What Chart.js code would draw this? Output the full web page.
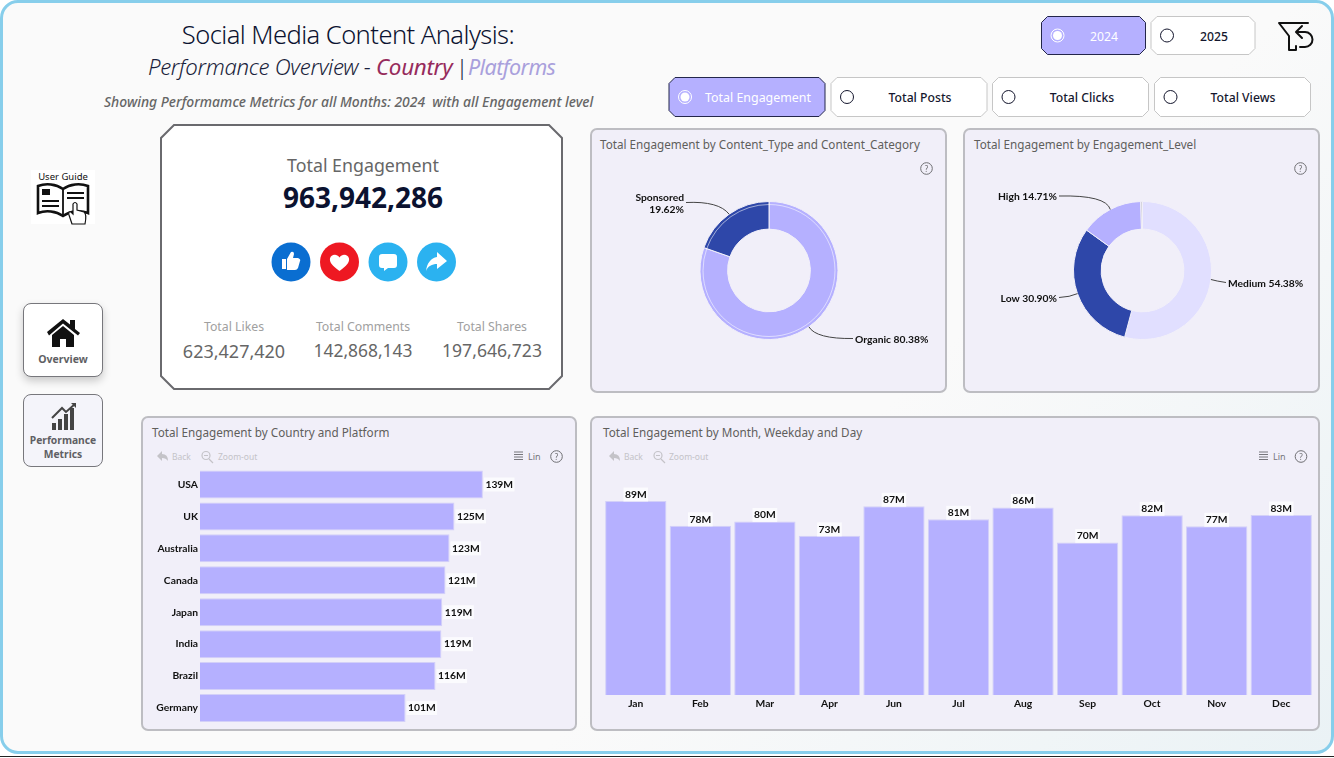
<!DOCTYPE html>
<html>
<head>
<meta charset="utf-8">
<title>Social Media Content Analysis</title>
<script src="https://cdn.jsdelivr.net/npm/chart.js@4"></script>
<style>
  html, body { margin: 0; padding: 0; width: 1334px; height: 758px; overflow: hidden; background: #fff; }
  body { font-family: "Noto Sans", sans-serif; position: relative; }
  #frame { position: absolute; left: 0; top: 0; width: 1328px; height: 748px; border: 3px solid #87CEEB; border-radius: 18px;
    background: linear-gradient(135deg, #fafafa 0%, #fafafa 62%, #eaf2f5 100%); }
  #baseline { position: absolute; left: 0; top: 756px; width: 1334px; height: 1px; background: #222; }
  #shapes { position: absolute; left: 0; top: 0; }
  .t { position: absolute; white-space: nowrap; line-height: 1; }
  .c { transform: translateX(-50%); }
  .panel { position: absolute; background: #F1EFF9; border: 2px solid #bdbdc2; border-radius: 7px; box-sizing: border-box; }
  canvas { position: absolute; }
  .nav { position: absolute; box-sizing: border-box; border: 1px solid #77777c; border-radius: 8px; }
  .ptitle { color: #605E5C; font-size: 11.7px; }
  .tool { color: #c4c3c8; font-size: 8.5px; }
  .tool2 { color: #77767c; font-size: 9px; }
  .sub { top: 56px; font-size: 22.2px; font-style: italic; font-weight: 300; color: #1a1f3c; letter-spacing: -.3px; }
</style>
</head>
<body>
<div id="frame"></div>
<div id="baseline"></div>
<svg id="shapes" width="1334" height="758"></svg>

<div class="t c" style="left:348px;top:22px;font-size:25.5px;color:#0b1230;font-weight:300;letter-spacing:-.55px">Social Media Content Analysis:</div>
<div class="t sub" style="left:148px">Performance Overview -</div>
<div class="t sub" style="left:376px;color:#962B5C;font-weight:400;font-size:22.4px">Country</div>
<div class="t sub" style="left:456px;font-style:normal">|</div>
<div class="t sub" style="left:468px;color:#A9A0DC;font-weight:400;font-size:21.5px;letter-spacing:-.6px">Platforms</div>
<div class="t" style="left:104px;top:95px;font-size:13.9px;font-style:italic;font-weight:500;color:#666;letter-spacing:0">Showing Performamce Metrics for all Months: 2024&nbsp; with all Engagement level</div>

<div class="t c" style="left:1104px;top:31px;font-size:12.2px;color:#fff">2024</div>
<div class="t c" style="left:1214px;top:31px;font-size:12.2px;color:#15172e;font-weight:500">2025</div>
<div class="t c" style="left:758px;top:92px;font-size:12.4px;color:#fff">Total Engagement</div>
<div class="t c" style="left:920px;top:92px;font-size:12.2px;color:#15172e;font-weight:500">Total Posts</div>
<div class="t c" style="left:1082px;top:92px;font-size:12.2px;color:#15172e;font-weight:500">Total Clicks</div>
<div class="t c" style="left:1243px;top:92px;font-size:12.2px;color:#15172e;font-weight:500">Total Views</div>

<div style="position:absolute;left:31px;top:170px;width:64px;height:54px;background:#fff"></div>
<div class="t c" style="left:63px;top:172px;font-size:9.5px;color:#111">User Guide</div>
<div class="nav" style="left:23px;top:303px;width:80px;height:74px;background:#fff;box-shadow:0 4px 8px rgba(0,0,0,.2)"></div>
<div class="t c" style="left:63px;top:354px;font-size:10.5px;font-weight:700;color:#5f5f64">Overview</div>
<div class="nav" style="left:23px;top:394px;width:80px;height:73px;background:#F4F4FA"></div>
<div class="t c" style="left:63px;top:435px;font-size:10.3px;font-weight:700;color:#5f5f64">Performance</div>
<div class="t c" style="left:63px;top:449px;font-size:10.3px;font-weight:700;color:#5f5f64">Metrics</div>

<div class="t c" style="left:363px;top:157px;font-size:17.8px;color:#666">Total Engagement</div>
<div class="t c" style="left:363px;top:183px;font-size:28px;font-weight:700;color:#0b1230">963,942,286</div>
<div class="t c" style="left:234px;top:321px;font-size:12.3px;color:#a0a0a0">Total Likes</div>
<div class="t c" style="left:363px;top:321px;font-size:12.3px;color:#a0a0a0">Total Comments</div>
<div class="t c" style="left:492px;top:321px;font-size:12.3px;color:#a0a0a0">Total Shares</div>
<div class="t c" style="left:234px;top:342px;font-size:18px;color:#666">623,427,420</div>
<div class="t c" style="left:363px;top:342px;font-size:17.4px;color:#666">142,868,143</div>
<div class="t c" style="left:492px;top:342px;font-size:17.6px;color:#666">197,646,723</div>

<div class="panel" style="left:590px;top:128px;width:357px;height:265px"></div>
<div class="panel" style="left:963px;top:128px;width:357px;height:265px"></div>
<div class="panel" style="left:141px;top:416px;width:436px;height:315px"></div>
<div class="panel" style="left:590px;top:416px;width:730px;height:315px"></div>
<div class="t ptitle" style="left:600px;top:139px">Total Engagement by Content_Type and Content_Category</div>
<div class="t ptitle" style="left:974px;top:139px">Total Engagement by Engagement_Level</div>
<div class="t ptitle" style="left:152px;top:427px">Total Engagement by Country and Platform</div>
<div class="t ptitle" style="left:603px;top:427px">Total Engagement by Month, Weekday and Day</div>

<div class="t tool" style="left:172px;top:453px">Back</div>
<div class="t tool" style="left:218px;top:453px">Zoom-out</div>
<div class="t tool2" style="left:528px;top:452px">Lin</div>
<div class="t tool" style="left:624px;top:453px">Back</div>
<div class="t tool" style="left:669px;top:453px">Zoom-out</div>
<div class="t tool2" style="left:1273px;top:452px">Lin</div>

<canvas id="typeChart" style="left:591px;top:129px"></canvas>
<canvas id="levelChart" style="left:964px;top:129px"></canvas>
<canvas id="countryChart" style="left:142px;top:417px"></canvas>
<canvas id="monthChart" style="left:591px;top:417px"></canvas>
<svg id="icons" width="1334" height="758" style="position:absolute;left:0;top:0;pointer-events:none"></svg>

<script>
const contentTypes = ["Organic", "Sponsored"];
const contentTypeShare = [80.38, 19.62];
const levels = ["Medium", "Low", "High", ""];
const levelShare = [54.38, 30.90, 14.71, 0.4];
const countries = ["USA", "UK", "Australia", "Canada", "Japan", "India", "Brazil", "Germany"];
const countryEngagement = [139, 125, 122.6, 120.6, 119, 118.6, 115.7, 101];
const months = ["Jan", "Feb", "Mar", "Apr", "Jun", "Jul", "Aug", "Sep", "Oct", "Nov", "Dec"];
const monthEngagement = [89, 77.6, 79.6, 73, 86.6, 80.6, 86, 70, 82.4, 77.4, 82.6];

const LILAC = "#B5B0FF";
const NAVY = "#2E47A9";
const PALE = "#E1DFFF";
const labelFont = '700 10.3px Lato, sans-serif';

// chamfered boxes and radio buttons
const shapes = document.getElementById("shapes");
function addSvg(parent, html) { parent.insertAdjacentHTML("beforeend", html); }
function octagon(x, y, w, h, cut, fill, stroke, sw) {
  const pts = [[x+cut,y],[x+w-cut,y],[x+w,y+cut],[x+w,y+h-cut],[x+w-cut,y+h],[x+cut,y+h],[x,y+h-cut],[x,y+cut]];
  addSvg(shapes, `<polygon points="${pts.map(p => p.join(",")).join(" ")}" fill="${fill}" stroke="${stroke}" stroke-width="${sw}"/>`);
}
octagon(161, 125, 401, 264, 13, "#fff", "#6a6a6e", 2);
const toggles = [
  [1041.5, 16.5, 104, 38, true], [1151, 16.5, 104, 38, false],
  [669, 77.5, 156, 39, true], [831, 77.5, 156, 39, false], [992.5, 77.5, 156, 39, false], [1154.5, 77.5, 156, 39, false]
];
toggles.forEach(([x, y, w, h, on]) => {
  octagon(x, y, w, h, 6, on ? LILAC : "#fff", on ? "#23264a" : "#c6c6c6", 1);
  const cx = x + 16, cy = y + h / 2;
  if (on) {
    addSvg(shapes, `<circle cx="${cx}" cy="${cy}" r="6.5" fill="none" stroke="#fff"/><circle cx="${cx}" cy="${cy}" r="4.5" fill="#fff"/>`);
  } else {
    addSvg(shapes, `<circle cx="${cx}" cy="${cy}" r="6.5" fill="#fff" stroke="#15172e"/>`);
  }
});

// icons
const icons = document.getElementById("icons");
addSvg(icons, `
<g fill="none" stroke="#111" stroke-width="2" stroke-linejoin="round" stroke-linecap="round">
  <path d="M1296 46 V50 H1289 V36 L1279 23 H1308"/>
  <path d="M1302 26 L1296 32 L1302 38 M1297 32 H1305 A7.5 7.5 0 0 1 1305 47 H1300"/>
</g>
<circle cx="291" cy="262" r="19.5" fill="#0A6ED1"/>
<path d="M282 259 h4 v10 h-4z M287 259 l4 -7 q3 -1 3 2 l-1 4 h5 q3 1 2 3 l-2 7 q-1 2 -3 2 h-8z" fill="#fff"/>
<circle cx="339.5" cy="262" r="19.5" fill="#EE1822"/>
<path d="M339.5 271 C331 265 329.5 261.5 330 258.5 C331 254 337 253.5 339.5 257.5 C342 253.5 348 254 349 258.5 C349.5 261.5 348 265 339.5 271Z" fill="#fff"/>
<circle cx="388" cy="262" r="19.5" fill="#2BB2F0"/>
<path d="M382 254 h12 q3 0 3 3 v8 q0 3 -3 3 h-6 l-4 3 v-3 h-2 q-3 0 -3 -3 v-8 q0 -3 3 -3z" fill="#fff"/>
<circle cx="436.5" cy="262" r="19.5" fill="#2BB2F0"/>
<path d="M437 252 L447 261 L437 269 V264 C432 264 428 266 426 271 C427 263 431 258 437 257Z" fill="#fff"/>
<g fill="none" stroke="#111" stroke-width="2.6">
  <path d="M38 186 C46 183 56 184 63 189 C70 184 80 183 88 186 V213 C80 210 70 211 63 216 C56 211 46 210 38 213Z"/>
  <path d="M63 189 V216 M42 206 H59 M42 201 H59 M67 198 H84 M67 193 H84" stroke-width="1.8"/>
</g>
<path d="M42 189 h8 v6 h-8z" fill="#111"/>
<path d="M72 224 L69 215 Q68 211 71 212 L73 214 V204 Q75 201 77 204 V210 L84 212 Q87 214 85 224 Z" fill="#fff" stroke="#111" stroke-width="1.2"/>
<path d="M47 332 L63 319 L70 324.5 V320 H75 V329 L80 333 L78 335.5 L63 323.5 L49 335.5Z" fill="#111"/>
<path d="M52 335 L63 326 L74 335 V347 H66 V339 H60 V347 H52Z" fill="#111"/>
<path d="M52 430 h4 v-7 h-4z M58 430 h4 v-11 h-4z M64 430 h4 v-16 h-4z M70 430 h4 v-22 h-4z" fill="#444"/>
<path d="M52 418 L62 408 L66 412 L75 404" fill="none" stroke="#444" stroke-width="2"/>
<path d="M71 403 L76 403 L76 408Z" fill="#444"/>
`);
[926.5, 1300.5].forEach(x => helpIcon(x, 168.5));
[556.5, 1301].forEach(x => helpIcon(x, 456.5));
function helpIcon(x, y) {
  addSvg(icons, `<circle cx="${x}" cy="${y}" r="5.8" fill="none" stroke="#6e6e72"/><text x="${x}" y="${y+3}" font-size="8" text-anchor="middle" fill="#6e6e72" font-family="Noto Sans">?</text>`);
}
[[157, 202, 514], [609, 654, 1259]].forEach(([back, zoom, lin]) => {
  addSvg(icons, `
    <path d="M${back} 456 l5 -5 v3 q6 0 6 7 q-2 -3 -6 -3 v3z" fill="#c4c3c8"/>
    <circle cx="${zoom+4}" cy="455.5" r="4" fill="none" stroke="#c4c3c8" stroke-width="1.2"/>
    <path d="M${zoom+7} 459 l4 4 M${zoom+2} 455.5 h4" stroke="#c4c3c8" stroke-width="1.2"/>
    <path d="M${lin} 452 h9 M${lin} 454.5 h9 M${lin} 457 h9 M${lin} 459.5 h9" stroke="#77767c" stroke-width="1"/>`);
});

function sizeCanvas(id, w, h) {
  const el = document.getElementById(id);
  el.style.width = w + "px";
  el.style.height = h + "px";
  el.width = w;
  el.height = h;
  return el;
}

// outside labels with curved leader lines
const leaderLabels = {
  id: "leaderLabels",
  afterDatasetsDraw(chart, args, opts) {
    const ctx = chart.ctx;
    const meta = chart.getDatasetMeta(0);
    ctx.save();
    // thin light ring just inside the outer edge
    if (opts.ring) {
      meta.data.forEach(arc => {
        ctx.beginPath();
        ctx.arc(arc.x, arc.y, arc.outerRadius - 3, arc.startAngle, arc.endAngle);
        ctx.strokeStyle = "rgba(255,255,255,.55)";
        ctx.lineWidth = 1;
        ctx.stroke();
      });
    }
    opts.items.forEach(item => {
      const arc = meta.data[item.index];
      const mid = (arc.startAngle + arc.endAngle) / 2;
      const ax = arc.x + Math.cos(mid) * arc.outerRadius;
      const ay = arc.y + Math.sin(mid) * arc.outerRadius;
      ctx.beginPath();
      ctx.moveTo(ax, ay);
      ctx.quadraticCurveTo(item.cx, item.cy, item.x, item.y);
      ctx.strokeStyle = "#444";
      ctx.lineWidth = 1;
      ctx.stroke();
      ctx.fillStyle = "#111";
      ctx.font = labelFont;
      ctx.textAlign = item.align;
      ctx.textBaseline = "middle";
      const textX = item.x + (item.align === "left" ? 2 : -2);
      const name = chart.data.labels[item.index];
      const pct = chart.data.datasets[0].data[item.index].toFixed(2) + "%";
      if (item.twoLines) {
        ctx.fillText(name, textX, item.y - 4.5);
        ctx.fillText(pct, textX, item.y + 7);
      } else {
        ctx.fillText(name + " " + pct, textX, item.y + 1);
      }
    });
    ctx.restore();
  }
};

function donut(id, labels, values, colors, padding, ring, items) {
  return new Chart(sizeCanvas(id, 355, 263), {
    type: "doughnut",
    data: { labels: labels, datasets: [{ data: values, backgroundColor: colors, borderColor: "#F1EFF9", borderWidth: 1 }] },
    options: {
      responsive: false,
      animation: false,
      radius: 69,
      cutout: "60%",
      layout: { padding: padding },
      plugins: { legend: { display: false }, tooltip: { enabled: false }, leaderLabels: { ring: ring, items: items } }
    },
    plugins: [leaderLabels]
  });
}

donut("typeChart", contentTypes, contentTypeShare, [LILAC, NAVY], { top: 20, left: 1 }, true, [
  { index: 0, x: 262, y: 209.5, cx: 225, cy: 210, align: "left" },
  { index: 1, x: 95, y: 73.5, cx: 128, cy: 72, align: "right", twoLines: true }
]);
donut("levelChart", levels, levelShare, [PALE, NAVY, LILAC, "#c9c9d0"], { top: 20, left: 2 }, false, [
  { index: 0, x: 262, y: 153.5, cx: 252, cy: 152, align: "left" },
  { index: 1, x: 95, y: 168.5, cx: 106, cy: 168, align: "right" },
  { index: 2, x: 95, y: 67, cx: 142, cy: 66, align: "right" }
]);

// value labels on small pale plates
const valueLabels = {
  id: "valueLabels",
  afterDatasetsDraw(chart, args, opts) {
    const ctx = chart.ctx;
    ctx.save();
    ctx.font = labelFont;
    ctx.textBaseline = "middle";
    ctx.textAlign = "center";
    chart.getDatasetMeta(0).data.forEach((bar, i) => {
      const text = Math.round(chart.data.datasets[0].data[i]) + "M";
      const w = ctx.measureText(text).width + 3;
      const cx = opts.horizontal ? bar.x + w / 2 + 1 : bar.x;
      const cy = opts.horizontal ? bar.y : bar.y - 6.5;
      ctx.fillStyle = "rgba(252,252,254,.9)";
      ctx.fillRect(cx - w / 2, cy - 7, w, 14);
      ctx.fillStyle = "#111";
      ctx.fillText(text, cx, cy);
    });
    ctx.restore();
  }
};

function barDataset(values, pct) {
  return { data: values, backgroundColor: LILAC, borderColor: "#D3D0F8", borderWidth: 1, barPercentage: pct, categoryPercentage: 1 };
}
const tickFont = { family: "Lato, sans-serif", size: 10.3, weight: "700" };

new Chart(sizeCanvas("countryChart", 434, 313), {
  type: "bar",
  data: { labels: countries, datasets: [barDataset(countryEngagement, 0.875)] },
  options: {
    indexAxis: "y",
    responsive: false,
    animation: false,
    layout: { padding: { top: 51.5, bottom: 6, right: 30, left: 0 } },
    scales: {
      x: { display: false, min: 0, max: 170 },
      y: {
        afterFit: s => { s.width = 58; s.paddingTop = 0; s.paddingBottom = 0; },
        grid: { display: false, drawTicks: false },
        border: { display: false },
        ticks: { color: "#111", font: tickFont, padding: 2 }
      }
    },
    plugins: { legend: { display: false }, tooltip: { enabled: false }, valueLabels: { horizontal: true } }
  },
  plugins: [valueLabels]
});

new Chart(sizeCanvas("monthChart", 727, 313), {
  type: "bar",
  data: { labels: months, datasets: [barDataset(monthEngagement, 0.95)] },
  options: {
    responsive: false,
    animation: false,
    layout: { padding: { top: 60, left: 12.5, right: 4.5, bottom: 0 } },
    scales: {
      x: {
        afterFit: s => { s.height = 35; },
        grid: { display: false, drawTicks: false },
        border: { display: false },
        ticks: { color: "#111", font: tickFont, padding: 2 }
      },
      y: { display: false, min: 0, max: 100 }
    },
    plugins: { legend: { display: false }, tooltip: { enabled: false }, valueLabels: { horizontal: false } }
  },
  plugins: [valueLabels]
});
</script>
</body>
</html>
